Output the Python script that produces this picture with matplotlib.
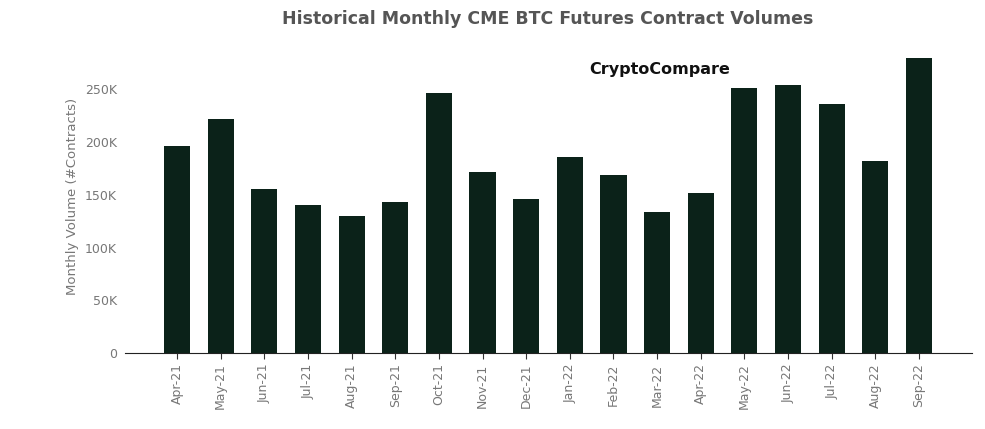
import matplotlib
matplotlib.use("Agg")
import matplotlib.pyplot as plt

months = ["Apr-21","May-21","Jun-21","Jul-21","Aug-21","Sep-21","Oct-21","Nov-21","Dec-21",
          "Jan-22","Feb-22","Mar-22","Apr-22","May-22","Jun-22","Jul-22","Aug-22","Sep-22"]
volumes = [196, 222, 155.5, 140, 130, 143, 247, 172, 146, 186, 169, 134, 152, 251, 254, 236, 182, 280]
volumes = [v * 1000 for v in volumes]
yticks = [0, 50000, 100000, 150000, 200000, 250000]
ylabels = ["0", "50K", "100K", "150K", "200K", "250K"]

fig = plt.figure(figsize=(9.85, 4.29), dpi=100)
ax = fig.add_axes([0.127, 0.177, 0.860, 0.73])
ax.bar(range(len(months)), volumes, width=0.6, color="#0b2219")
ax.set_xlim(-1.19, len(months) - 1 + 1.22)
ax.set_ylim(0, 297000)
ax.set_xticks(range(len(months)))
ax.set_xticklabels(months, rotation=90, fontsize=9, color="#777777")
ax.set_yticks(yticks)
ax.set_yticklabels(ylabels, fontsize=9, color="#777777")
ax.tick_params(axis="y", length=0, pad=6)
ax.tick_params(axis="x", length=4, color="#333333")
for s in ["top", "right", "left"]:
    ax.spines[s].set_visible(False)
ax.spines["bottom"].set_color("#222222")
ax.set_ylabel("Monthly Volume (#Contracts)", fontsize=9.5, color="#777777")
fig.text(0.556, 0.955, "Historical Monthly CME BTC Futures Contract Volumes",
         ha="center", va="center", fontsize=12.5, fontweight="bold", color="#555555")
fig.text(0.598, 0.838, "CryptoCompare", ha="left", va="center", fontsize=11.5,
         fontweight="bold", color="#111111")
fig.savefig("out.png", dpi=100)
